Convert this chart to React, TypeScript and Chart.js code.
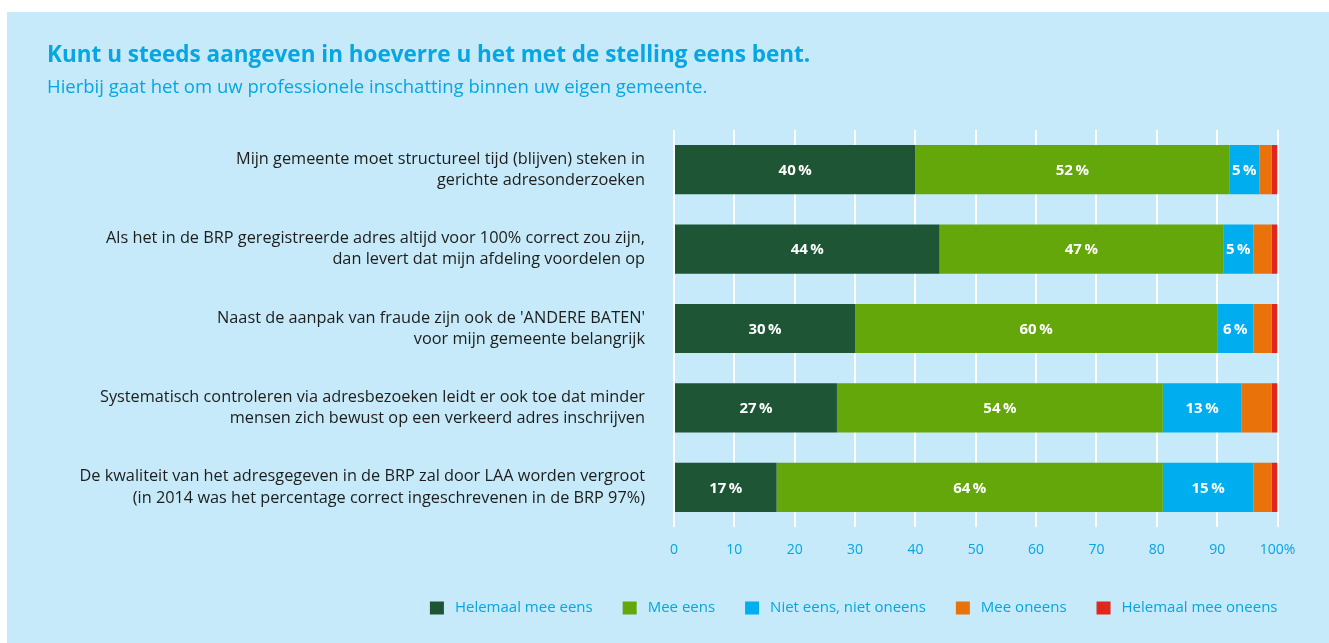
import React, { useEffect, useRef } from "react";
import { Chart, registerables } from "chart.js";

Chart.register(...registerables);

const TITLE = "Kunt u steeds aangeven in hoeverre u het met de stelling eens bent.";
const SUBTITLE = "Hierbij gaat het om uw professionele inschatting binnen uw eigen gemeente.";

const categories: string[][] = [
  ["Mijn gemeente moet structureel tijd (blijven) steken in", "gerichte adresonderzoeken"],
  ["Als het in de BRP geregistreerde adres altijd voor 100% correct zou zijn,", "dan levert dat mijn afdeling voordelen op"],
  ["Naast de aanpak van fraude zijn ook de 'ANDERE BATEN'", "voor mijn gemeente belangrijk"],
  ["Systematisch controleren via adresbezoeken leidt er ook toe dat minder", "mensen zich bewust op een verkeerd adres inschrijven"],
  ["De kwaliteit van het adresgegeven in de BRP zal door LAA worden vergroot", "(in 2014 was het percentage correct ingeschrevenen in de BRP 97%)"],
];

const seriesNames = [
  "Helemaal mee eens",
  "Mee eens",
  "Niet eens, niet oneens",
  "Mee oneens",
  "Helemaal mee oneens",
];

const helemaalMeeEens = [40, 44, 30, 27, 17];
const meeEens = [52, 47, 60, 54, 64];
const nietEensNietOneens = [5, 5, 6, 13, 15];
const meeOneens = [2, 3, 3, 5, 3];
const helemaalMeeOneens = [1, 1, 1, 1, 1];

const xTicks = [0, 10, 20, 30, 40, 50, 60, 70, 80, 90, 100];

const colors = ["#1e5535", "#64a70b", "#00aeef", "#e9720a", "#e1261c"];
const PANEL = "#c6eaf9";
const BLUE_TEXT = "#05a6e3";

const labelledSeries = 3;

const valueLabels = {
  id: "valueLabels",
  afterDatasetsDraw(chart: any) {
    const ctx = chart.ctx;
    ctx.save();
    ctx.fillStyle = "#ffffff";
    ctx.font = "bold 15px 'Open Sans', sans-serif";
    ctx.textAlign = "center";
    ctx.textBaseline = "middle";
    for (let d = 0; d < labelledSeries; d++) {
      const meta = chart.getDatasetMeta(d);
      const data = chart.data.datasets[d].data as number[];
      meta.data.forEach((el: any, i: number) => {
        const { x, y, base } = el.getProps(["x", "y", "base"], true);
        ctx.fillText(`${data[i]}\u2009%`, (x + base) / 2, y + 1);
      });
    }
    ctx.restore();
  },
};

export default function App() {
  const ref = useRef<HTMLCanvasElement>(null);

  useEffect(() => {
    if (!ref.current) return;
    Chart.defaults.font.family = "'Open Sans', sans-serif";
    const seriesData = [helemaalMeeEens, meeEens, nietEensNietOneens, meeOneens, helemaalMeeOneens];
    const chart = new Chart(ref.current, {
      type: "bar",
      data: {
        labels: categories as any,
        datasets: seriesData.map((d, i) => ({
          label: seriesNames[i],
          data: d,
          backgroundColor: colors[i],
          borderWidth: 0,
          barPercentage: 0.62,
          categoryPercentage: 1,
        })),
      },
      options: {
        indexAxis: "y",
        responsive: false,
        animation: false,
        layout: { padding: { left: 40, right: 0, top: 0, bottom: 15 } },
        scales: {
          x: {
            stacked: true,
            min: 0,
            max: 100,
            afterBuildTicks: (scale: any) => {
              scale.ticks = xTicks.map((v) => ({ value: v }));
            },
            afterFit: (scale: any) => {
              scale.paddingRight = 26.5;
              scale.height = 44.5;
            },
            grid: { color: "#ffffff", lineWidth: 2, drawTicks: false },
            border: { display: false },
            ticks: {
              padding: 15,
              color: BLUE_TEXT,
              font: { size: 14 },
              callback: (v: any) => (Number(v) === 100 ? "100%" : String(v)),
            },
          },
          y: {
            stacked: true,
            grid: { display: false, drawTicks: false },
            border: { display: false },
            afterFit: (scale: any) => {
              scale.width = 627;
            },
            ticks: {
              padding: 29,
              color: "#1d1d1b",
              font: { size: 16.3, lineHeight: 1.3 },
            },
          },
        },
        plugins: {
          title: {
            display: true,
            text: TITLE,
            align: "start",
            color: BLUE_TEXT,
            font: { size: 22.5, weight: "bold", lineHeight: 1.2 },
            padding: { top: 30.5, bottom: 4 },
          },
          subtitle: {
            display: true,
            text: SUBTITLE,
            align: "start",
            color: BLUE_TEXT,
            font: { size: 18.5, weight: "normal", lineHeight: 1.2 },
            padding: { top: 3.4, bottom: 30.9 },
          },
          legend: {
            position: "bottom",
            align: "end",
            labels: {
              color: BLUE_TEXT,
              font: { size: 15 },
              boxWidth: 21,
              boxHeight: 20,
              padding: 26.5,
              generateLabels: (c: any) =>
                Chart.defaults.plugins.legend.labels.generateLabels(c).map((it: any) => ({
                  ...it,
                  strokeStyle: PANEL,
                  lineWidth: 7,
                })),
            },
          },
          tooltip: { enabled: false },
        },
      },
      plugins: [valueLabels],
    } as any);
    return () => chart.destroy();
  }, []);

  return (
    <div
      style={{
        position: "absolute",
        left: 7,
        top: 12,
        width: 1322,
        height: 631,
        background: PANEL,
      }}
    >
      <canvas ref={ref} width={1297} height={631} style={{ display: "block" }} />
    </div>
  );
}
